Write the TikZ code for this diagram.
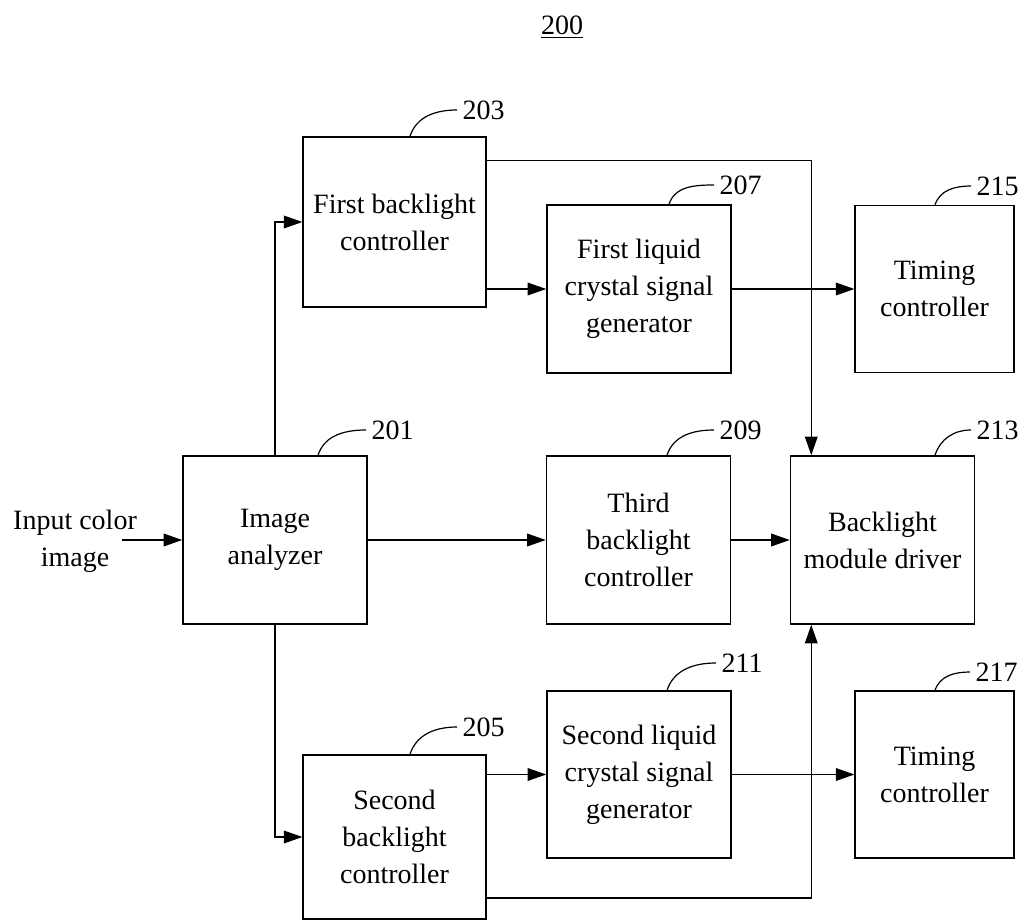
\documentclass[tikz,border=0pt]{standalone}
\usepackage{fontspec}
\setmainfont{Liberation Serif}
\usetikzlibrary{arrows.meta,calc}
\begin{document}
\begin{tikzpicture}[x=0.75pt,y=-0.75pt,
  txt/.style={font=\fontsize{21}{27.8}\selectfont},
  blk/.style={txt,draw,line width=1.1pt,align=center,inner sep=0pt,
    minimum width=138pt,minimum height=126pt},
  num/.style={txt,inner sep=4pt,anchor=west},
  arr/.style={line width=1.1pt,-{Triangle[length=14pt,width=9.5pt]}},
  call/.style={line width=0.9pt}]
\useasboundingbox (0,0) rectangle (1021,920);

% title
\node[txt] (title) at (562,27) {\underline{200}};

% blocks
\node[blk] (ia) at (275,540) {Image\\analyzer};
\node[blk,minimum width=137pt,minimum height=127.5pt] (fbc) at (394.5,222) {First backlight\\controller};
\node[blk,minimum width=137pt,minimum height=123pt] (sbc) at (394.5,837) {Second\\backlight\\controller};
\node[blk] (flc) at (639,289) {First liquid\\crystal signal\\generator};
\node[blk] (tbc) at (638.5,540) {Third\\backlight\\controller};
\node[blk,minimum height=125pt] (slc) at (639,774.5) {Second liquid\\crystal signal\\generator};
\node[blk] (bmd) at (882.5,540) {Backlight\\module driver};
\node[blk,minimum width=119pt,minimum height=125pt] (tc1) at (934.5,289) {Timing\\controller};
\node[blk,minimum width=119pt,minimum height=125pt] (tc2) at (934.5,774.5) {Timing\\controller};

% input
\node[txt,align=center] (input) at (75,541) {Input color\\image};
\coordinate (inp) at (122,540);

% connectors
\draw[arr] (inp) -- (ia.west);
\draw[arr] (ia.north) |- (fbc.west);
\draw[arr] (ia.south) |- (sbc.west);
\draw[arr] (ia.east) -- (tbc.west);
\draw[arr] ($(fbc.north east)+(0,24)$) -| ($(bmd.north west)+(21.5,0)$);
\draw[arr] (fbc.east |- flc.west) -- (flc.west);
\draw[arr] (flc.east) -- (tc1.west);
\draw[arr] (tbc.east) -- (bmd.west);
\draw[arr] (sbc.east |- slc.west) -- (slc.west);
\draw[arr] (slc.east) -- (tc2.west);
\draw[arr] ($(sbc.east)+(0,61)$) -| ($(bmd.south west)+(21.5,0)$);

% reference numerals
\node[num] (n201) at (366,430) {201};
\node[num] (n203) at (457,110) {203};
\node[num] (n205) at (457,727) {205};
\node[num] (n207) at (714,185) {207};
\node[num] (n209) at (714,430) {209};
\node[num] (n211) at (716,663) {211};
\node[num] (n213) at (971,430) {213};
\node[num] (n215) at (971,186) {215};
\node[num] (n217) at (970,672) {217};

\draw[call] ($(ia.north)+(43,0)$) to[out=72,in=180] (n201.west);
\draw[call] ($(fbc.north)+(15.5,0)$) to[out=72,in=180] (n203.west);
\draw[call] ($(sbc.north)+(15.5,0)$) to[out=72,in=180] (n205.west);
\draw[call] ($(flc.north)+(30,0)$) to[out=72,in=180] (n207.west);
\draw[call] ($(tbc.north)+(28.5,0)$) to[out=72,in=180] (n209.west);
\draw[call] ($(slc.north)+(28,0)$) to[out=72,in=180] (n211.west);
\draw[call] ($(bmd.north)+(52.5,0)$) to[out=72,in=180] (n213.west);
\draw[call] ($(tc1.north)+(0.5,0)$) to[out=72,in=180] (n215.west);
\draw[call] ($(tc2.north)+(0.5,0)$) to[out=72,in=180] (n217.west);
\end{tikzpicture}
\end{document}
